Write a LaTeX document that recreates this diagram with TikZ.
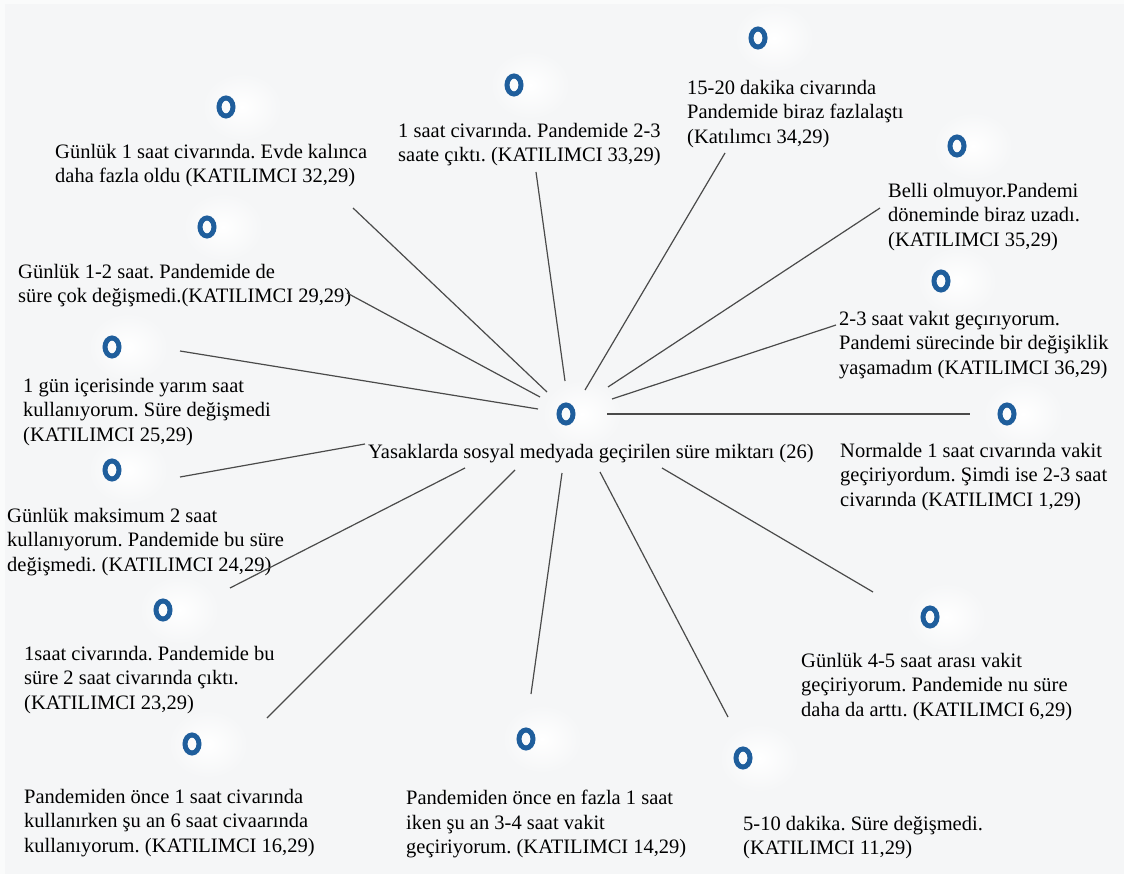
\documentclass[tikz,border=0pt]{standalone}
\usepackage{fontspec}
\setmainfont{Liberation Serif}
\usetikzlibrary{shapes.geometric}

\definecolor{bg}{HTML}{F5F6F7}
\definecolor{edge}{HTML}{FAFBFB}
\definecolor{ringblue}{HTML}{1F5E9C}
\definecolor{spoke}{HTML}{4A4A4A}

\pgfdeclarelayer{background}
\pgfsetlayers{background,main}

\begin{document}
\frenchspacing
\begin{tikzpicture}[x=1pt,y=-1pt,font=\fontsize{20.5}{24.5}\selectfont,
		ring/.style={ellipse,draw=ringblue,line width=5pt,minimum width=14pt,minimum height=18pt,inner sep=0pt},
		quote/.style={anchor=north west,inner sep=0pt,align=left},
		spokeline/.style={line width=1.2pt,spoke}]
		\useasboundingbox (0,0) rectangle (1124,874);
		\begin{pgfonlayer}{background}
			\fill[bg] (0,0) rectangle (1124,874);
			\fill[edge] (0,0) rectangle (5,874);
			\fill[edge] (0,0) rectangle (1124,4);
			\foreach \x / \y in {226/107,514/85,758/38,957/146,207/227,941/281,112/347,566/414,1007/414,112/470,163/610,930/617,192/744,526/739,743/758} { \shade[inner color=white,outer color=bg] ({\x+16},\y) ellipse [x radius=40pt,y radius=34pt];}
		\end{pgfonlayer}

		\foreach \n / \x / \y in {32/226/107,33/514/85,34/758/38,35/957/146,29/207/227,36/941/281,25/112/347,hub/566/414,1/1007/414,24/112/470,23/163/610,6/930/617,16/192/744,14/526/739,11/743/758} { \node[ring] (r\n) at (\x,\y) {};}

		\node[anchor=base west,inner sep=0pt] (label) at (368,458) {Yasaklarda sosyal medyada geçirilen süre miktarı (26)};

		\node[quote] (t32) at (55,144) {Günlük 1 saat civarında. Evde kalınca\\daha fazla oldu (KATILIMCI 32,29)};
		\node[quote] (t33) at (398,123) {1 saat civarında. Pandemide 2-3\\saate çıktı. (KATILIMCI 33,29)};
		\node[quote] (t34) at (687,80) {15-20 dakika civarında\\Pandemide biraz fazlalaştı\\(Katılımcı 34,29)};
		\node[quote] (t35) at (888,183) {Belli olmuyor.Pandemi\\döneminde biraz uzadı.\\(KATILIMCI 35,29)};
		\node[quote] (t29) at (18,264) {Günlük 1-2 saat. Pandemide de\\süre çok değişmedi.(KATILIMCI 29,29)};
		\node[quote] (t36) at (839,311) {2-3 saat vakıt geçırıyorum.\\Pandemi sürecinde bir değişiklik\\yaşamadım (KATILIMCI 36,29)};
		\node[quote] (t25) at (23,378) {1 gün içerisinde yarım saat\\kullanıyorum. Süre değişmedi\\(KATILIMCI 25,29)};
		\node[quote] (t1) at (840,443) {Normalde 1 saat cıvarında vakit\\geçiriyordum. Şimdi ise 2-3 saat\\civarında (KATILIMCI 1,29)};
		\node[quote] (t24) at (7,508) {Günlük maksimum 2 saat\\kullanıyorum. Pandemide bu süre\\değişmedi. (KATILIMCI 24,29)};
		\node[quote] (t23) at (24,646) {1saat civarında. Pandemide bu\\süre 2 saat civarında çıktı.\\(KATILIMCI 23,29)};
		\node[quote] (t6) at (801,653) {Günlük 4-5 saat arası vakit\\geçiriyorum. Pandemide nu süre\\daha da arttı. (KATILIMCI 6,29)};
		\node[quote] (t16) at (24,789) {Pandemiden önce 1 saat civarında\\kullanırken şu an 6 saat civaarında\\kullanıyorum. (KATILIMCI 16,29)};
		\node[quote] (t14) at (406,790) {Pandemiden önce en fazla 1 saat\\iken şu an 3-4 saat vakit\\geçiriyorum. (KATILIMCI 14,29)};
		\node[quote] (t11) at (743,816) {5-10 dakika. Süre değişmedi.\\(KATILIMCI 11,29)};

		\foreach \n / \ax / \ay / \bx / \by in {32/353/208/547/392,33/536/172/565/381,34/725/153/585/390,35/880/208/608/387,29/347/293/540/397,36/836/325/612/399,25/180/351/538/409,1/970/414/607/414,24/180/477/365/444,23/230/588/465/468,16/267/718/515/470,14/531/694/562/473,11/728/717/600/472,6/873/592/662/468} {
			\coordinate (a\n) at (\ax,\ay);
			\coordinate (b\n) at (\bx,\by);
			\draw[spokeline] (b\n) -- (a\n);
		}
	\end{tikzpicture}
\end{document}
